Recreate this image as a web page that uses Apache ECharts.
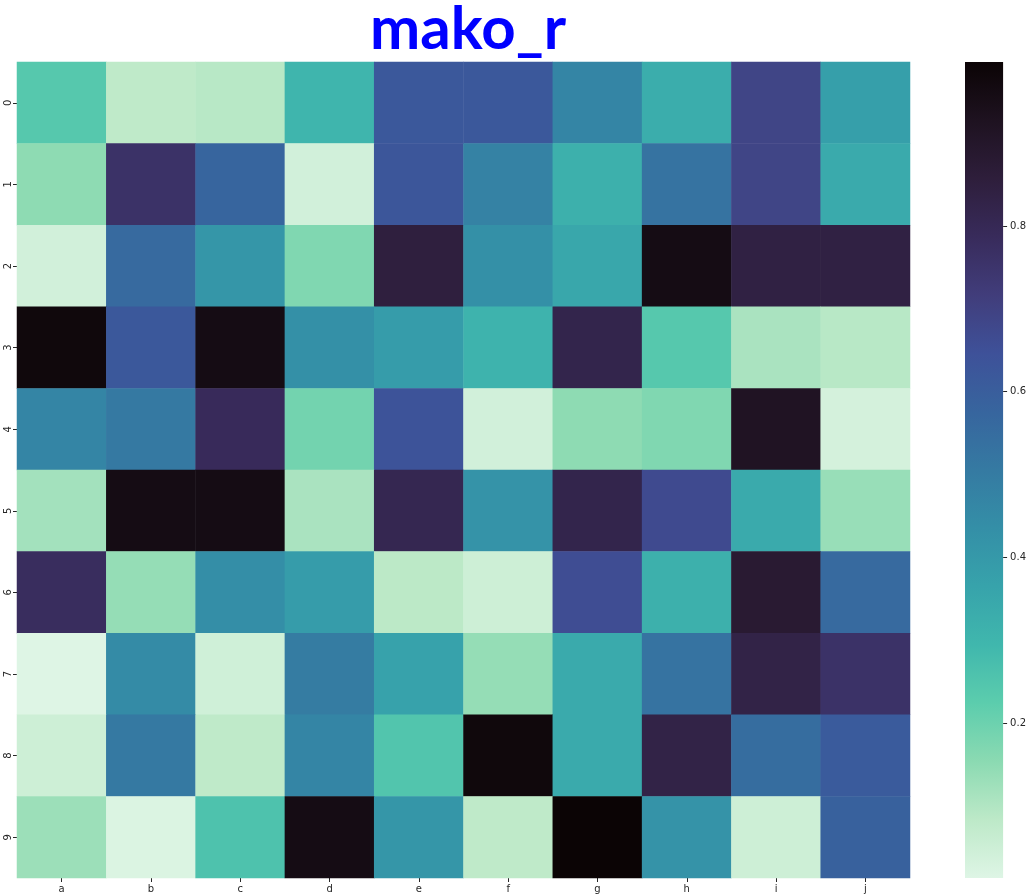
<!DOCTYPE html>
<html>
<head>
<meta charset="utf-8">
<script src="https://cdn.jsdelivr.net/npm/echarts@6/dist/echarts.min.js"></script>
<style>
  html, body { margin: 0; padding: 0; background: #fff; }
  #main { width: 1029px; height: 895px; }
</style>
</head>
<body>
<div id="main"></div>
<script>
var cols = ['a', 'b', 'c', 'd', 'e', 'f', 'g', 'h', 'i', 'j']
var rows = ['0', '1', '2', '3', '4', '5', '6', '7', '8', '9']

// one array per row
var row0 = [0.24, 0.08, 0.09, 0.30, 0.62, 0.62, 0.47, 0.33, 0.69, 0.38]
var row1 = [0.15, 0.76, 0.575, 0.04, 0.63, 0.48, 0.32, 0.53, 0.69, 0.34]
var row2 = [0.04, 0.56, 0.41, 0.17, 0.85, 0.43, 0.35, 0.96, 0.84, 0.84]
var row3 = [0.98, 0.62, 0.96, 0.43, 0.39, 0.31, 0.82, 0.24, 0.11, 0.09]
var row4 = [0.47, 0.51, 0.79, 0.19, 0.64, 0.04, 0.15, 0.17, 0.92, 0.035]
var row5 = [0.12, 0.96, 0.96, 0.11, 0.81, 0.42, 0.82, 0.67, 0.34, 0.135]
var row6 = [0.78, 0.14, 0.44, 0.39, 0.085, 0.05, 0.66, 0.32, 0.88, 0.56]
var row7 = [0.013, 0.45, 0.045, 0.50, 0.37, 0.14, 0.34, 0.53, 0.83, 0.76]
var row8 = [0.05, 0.51, 0.08, 0.47, 0.25, 0.98, 0.34, 0.83, 0.55, 0.61]
var row9 = [0.13, 0.02, 0.26, 0.96, 0.41, 0.08, 0.998, 0.42, 0.05, 0.59]

var colorbarTicks = [0.2, 0.4, 0.6, 0.8]
var vmin = 0.013
var vmax = 0.998

// mako_r, low -> high, evenly spaced stops
var mako_r = [
    '#def5e5', '#bde9c8', '#8bdab2', '#5ccdad', '#40b7ad', '#37a3ab', '#348fa7', '#357aa2',
    '#37659e', '#3e5199', '#413d7b', '#382b5b', '#2e1e3b', '#1e1220', '#0b0405'
]

var allRows = [row0, row1, row2, row3, row4, row5, row6, row7, row8, row9]
var data = []
for (var r = 0; r < allRows.length; r++) {
    for (var c = 0; c < cols.length; c++) {
        data.push([c, r, allRows[r][c]])
    }
}

var stops = []
for (var i = 0; i < mako_r.length; i++) {
    stops.push({ offset: i / (mako_r.length - 1), color: mako_r[i] })
}

var labelFont = { color: '#262626', fontSize: 10, fontFamily: 'DejaVu Sans' }

var myChart = echarts.init(document.getElementById('main'))
var option = {
    animation: false,
    title: {
        text: 'mako_r',
        left: 463,
        textAlign: 'center',
        top: -5,
        textStyle: {
            color: '#0000ff',
            fontSize: 60,
            fontWeight: 'bold',
            fontFamily: 'Comic Sans MS, Lato, DejaVu Sans'
        }
    },
    grid: [
        { left: 17, top: 62, width: 893, height: 816 },
        { left: 965, top: 62, width: 40, height: 816 }
    ],
    xAxis: [
        {
            type: 'category',
            gridIndex: 0,
            data: cols,
            splitArea: { show: false },
            axisLine: { show: false },
            axisTick: { show: true, alignWithLabel: true, length: 4, lineStyle: { color: '#262626' } },
            axisLabel: Object.assign({ margin: 6 }, labelFont)
        },
        {
            type: 'category',
            gridIndex: 1,
            data: [''],
            show: false
        }
    ],
    yAxis: [
        {
            type: 'category',
            gridIndex: 0,
            data: rows,
            inverse: true,
            axisLine: { show: false },
            axisTick: { show: true, alignWithLabel: true, length: 4, lineStyle: { color: '#262626' } },
            axisLabel: Object.assign({ rotate: 90, margin: 4 }, labelFont)
        },
        {
            type: 'value',
            gridIndex: 1,
            position: 'right',
            min: vmin,
            max: vmax,
            splitLine: { show: false },
            axisLine: { show: false },
            axisTick: { show: true, length: 4, customValues: colorbarTicks, lineStyle: { color: '#262626' } },
            axisLabel: Object.assign({ margin: 7, customValues: colorbarTicks }, labelFont)
        }
    ],
    visualMap: {
        show: false,
        seriesIndex: 0,
        min: vmin,
        max: vmax,
        inRange: { color: mako_r }
    },
    series: [
        {
            type: 'heatmap',
            xAxisIndex: 0,
            yAxisIndex: 0,
            data: data,
            itemStyle: { borderWidth: 0 },
            emphasis: { disabled: true }
        },
        {
            type: 'custom',
            xAxisIndex: 1,
            yAxisIndex: 1,
            data: [[0, vmin, vmax]],
            renderItem: function (params, api) {
                var top = api.coord([0, api.value(2)])
                var bottom = api.coord([0, api.value(1)])
                var w = api.size([1, 0])[0]
                return {
                    type: 'rect',
                    shape: { x: top[0] - w / 2, y: top[1], width: w, height: bottom[1] - top[1] },
                    style: {
                        fill: new echarts.graphic.LinearGradient(0, 1, 0, 0, stops)
                    }
                }
            }
        }
    ]
}
myChart.setOption(option)
</script>
</body>
</html>
